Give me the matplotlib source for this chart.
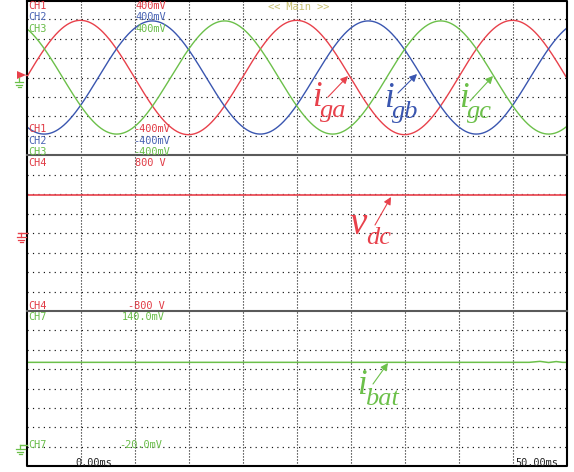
import matplotlib.pyplot as plt
import numpy as np

# values
time_span_ms = [0.0, 50.0]
phase_names = ['i_ga', 'i_gb', 'i_gc']
phase_amplitude_mv = [295, 292, 292]
phase_peak_ms = [4.95, 11.6, 18.3]
grid_freq_hz = 50
vdc_time_ms = [0.0, 50.0]
vdc_volts = [385, 385]
ibat_time_ms = [0.0, 46.5, 47.5, 48.3, 49.0, 49.6, 50.0]
ibat_mv = [87, 87, 88, 86.8, 87.8, 87, 87]

ch_top_labels = [('CH1', '400mV'), ('CH2', '400mV'), ('CH3', '400mV')]
ch_bot_labels = [('CH1', '-400mV'), ('CH2', '-400mV'), ('CH3', '-400mV')]

RED = '#e8414b'
BLUE = '#3a56b0'
GREEN = '#6cc04a'
TXT_RED = '#e03a44'
TXT_BLUE = '#4a64b4'
TXT_GREEN = '#68bc48'
W, H = 574, 472

fig = plt.figure(figsize=(W / 100, H / 100), dpi=100)

x0, x1 = 27, 567
panels = [(0, 155, (-400, 400)), (155, 311, (-800, 800)), (311, 466, (-20, 140))]
axes = []
for top, bot, ylim in panels:
    ax = fig.add_axes([x0 / W, (H - bot) / H, (x1 - x0) / W, (bot - top) / H])
    ax.set_xlim(*time_span_ms)
    ax.set_ylim(*ylim)
    for s in ax.spines.values():
        s.set_visible(False)
    ax.set_xticks([])
    ax.set_yticks([])
    step = (ylim[1] - ylim[0]) / 8
    for k in range(1, 8):
        ax.axhline(ylim[0] + k * step, color='#111111', lw=0.85,
                   ls=(0, (1, 3.6)), zorder=0)
    for k in range(1, 10):
        ax.axvline(k * 5, color='#111111', lw=0.8, ls=(0, (1, 1.7)), zorder=0)
    axes.append(ax)

# three-phase grid currents
t = np.linspace(0, 50, 1000)
for amp, peak, col in zip(phase_amplitude_mv, phase_peak_ms, [RED, BLUE, GREEN]):
    axes[0].plot(t, amp * np.cos(2 * np.pi * grid_freq_hz * (t - peak) / 1000),
                 color=col, lw=1.0)

axes[1].plot(vdc_time_ms, vdc_volts, color=RED, lw=1.2)
axes[2].plot(ibat_time_ms, ibat_mv, color=GREEN, lw=1.1)

# overlay in pixel coordinates for frame, labels and markers
ov = fig.add_axes([0, 0, 1, 1], facecolor='none')
ov.set_xlim(0, W)
ov.set_ylim(H, 0)
ov.axis('off')

ov.plot([x0, x0, x1, x1, x0], [0.5, 466, 466, 0.5, 0.5], color='black', lw=1.5)
for y in [155, 311]:
    ov.plot([x0, x1], [y, y], color='#5a5a5a', lw=1.5)

mono = dict(family='DejaVu Sans Mono', fontsize=7.4, va='top', ha='left')
for i, ((c, v), col) in enumerate(zip(ch_top_labels, [TXT_RED, TXT_BLUE, TXT_GREEN])):
    y = 1 + i * 11.5
    ov.text(28, y, c, color=col, **mono)
    ov.text(135, y, v, color=col, **mono)
for i, ((c, v), col) in enumerate(zip(ch_bot_labels, [TXT_RED, TXT_BLUE, TXT_GREEN])):
    y = 124 + i * 11.5
    ov.text(28, y, c, color=col, **mono)
    ov.text(133, y, v, color=col, **mono)
ov.text(268, 2, '<< Main >>', color='#c8c070', **mono)
ov.text(28, 158, 'CH4', color=TXT_RED, **mono)
ov.text(135, 158, '800 V', color=TXT_RED, **mono)
ov.text(28, 301, 'CH4', color=TXT_RED, **mono)
ov.text(128, 301, '-800 V', color=TXT_RED, **mono)
ov.text(28, 312, 'CH7', color=TXT_GREEN, **mono)
ov.text(122, 312, '140.0mV', color=TXT_GREEN, **mono)
ov.text(28, 440, 'CH7', color=TXT_GREEN, **mono)
ov.text(119, 440, '-20.0mV', color=TXT_GREEN, **mono)
ov.text(75, 458, '0.00ms', color='#222222', **mono)
ov.text(515, 458, '50.00ms', color='#222222', **mono)

# ground / offset markers
ov.fill([17, 17, 26], [71, 79, 75], color=RED, lw=0)
ov.plot([26, x0], [75, 75], color=RED, lw=1)
ov.plot([19, 19], [78, 82], color=GREEN, lw=0.9)
for w, dy in [(4, 82), (3, 84.5), (1.5, 87)]:
    ov.plot([19 - w, 19 + w], [dy, dy], color=GREEN, lw=0.9)
ov.plot([18, x0], [233, 233], color=RED, lw=1)
ov.plot([21, 21], [233, 237], color=RED, lw=0.9)
for w, dy in [(4.5, 237), (3, 239.5), (1.5, 242)]:
    ov.plot([21 - w, 21 + w], [dy, dy], color=RED, lw=0.9)
ov.plot([20, x0], [445, 445], color=GREEN, lw=1)
ov.plot([20, 20], [445, 449], color=GREEN, lw=0.9)
for w, dy in [(4.5, 449), (3, 451.5), (1.5, 454)]:
    ov.plot([20 - w, 20 + w], [dy, dy], color=GREEN, lw=0.9)

# signal labels with arrows
serif = dict(family='Liberation Serif', style='italic', ha='left', va='baseline')
labels = [
    ('i', 'ga', 312, 106, RED, (328, 97), (348, 76)),
    ('i', 'gb', 384, 107, BLUE, (398, 93), (417, 74)),
    ('i', 'gc', 459, 107, GREEN, (470, 101), (493, 76)),
    ('i', 'bat', 357, 394, GREEN, (373, 384), (388, 363)),
]
for main, sub, x, yb, col, tail, head in labels:
    ov.text(x, yb, main, color=col, fontsize=25, **serif)
    ov.text(x + 8, yb + 11, sub, color=col, fontsize=19, **serif)
    ov.annotate('', xy=head, xytext=tail,
                arrowprops=dict(arrowstyle='-|>', color=col, lw=0.8,
                                mutation_scale=11, shrinkA=0, shrinkB=0))
ov.text(349, 234, 'v', color=RED, fontsize=28, **serif)
ov.text(366, 244, 'dc', color=RED, fontsize=19, **serif)
ov.annotate('', xy=(391, 197), xytext=(375, 225),
            arrowprops=dict(arrowstyle='-|>', color=RED, lw=0.8,
                            mutation_scale=11, shrinkA=0, shrinkB=0))

fig.savefig('out.png', dpi=100)
